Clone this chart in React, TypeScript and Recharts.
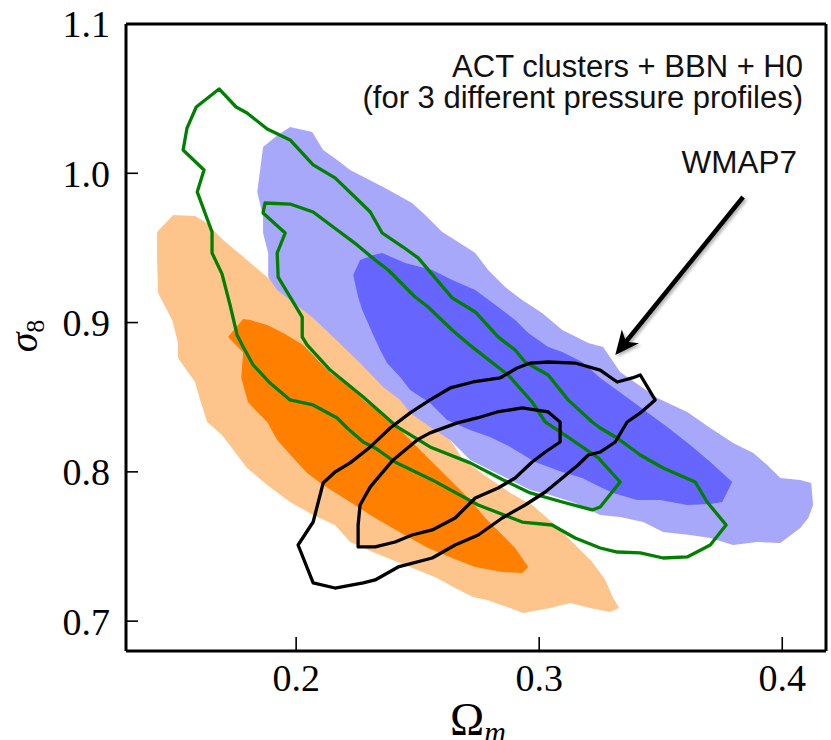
import React from "react";
import { ScatterChart, Scatter, XAxis, YAxis } from "recharts";

type Pt = [number, number];

// contour vertices, as [Omega_m, sigma_8]
// ACT profile A (orange), 95% and 68%
const profileA95: Pt[] = [
  [0.1428, 0.9607], [0.1494, 0.9721], [0.1584, 0.9714], [0.1626, 0.9674], [0.17, 0.9553],
  [0.1798, 0.9419], [0.1885, 0.9299], [0.1975, 0.9198], [0.2066, 0.9071], [0.216, 0.8937],
  [0.2263, 0.8776], [0.2358, 0.8615], [0.2449, 0.8495], [0.2551, 0.8348], [0.2634, 0.8214],
  [0.2687, 0.808], [0.2786, 0.7966], [0.2881, 0.7859], [0.2971, 0.7778], [0.3066, 0.7644],
  [0.3148, 0.751], [0.3218, 0.7396], [0.3272, 0.7276], [0.3304, 0.7155], [0.3329, 0.7088],
  [0.3292, 0.7061], [0.321, 0.7088], [0.3128, 0.7122], [0.3045, 0.7088], [0.2934, 0.7055],
  [0.2868, 0.7095], [0.2786, 0.7142], [0.2728, 0.7162], [0.2646, 0.7229], [0.258, 0.7289],
  [0.2469, 0.7363], [0.2325, 0.7457], [0.2222, 0.753], [0.216, 0.7644], [0.207, 0.7711],
  [0.1975, 0.7798], [0.1881, 0.7912], [0.1798, 0.8026], [0.1695, 0.8247], [0.1634, 0.8334],
  [0.1605, 0.8482], [0.1584, 0.8602], [0.1514, 0.8763], [0.1514, 0.8863], [0.149, 0.9017],
  [0.1432, 0.9198], [0.1428, 0.9419],
];
const profileA68: Pt[] = [
  [0.172, 0.8904], [0.1782, 0.9024], [0.1811, 0.9017], [0.1881, 0.8984], [0.1947, 0.893],
  [0.2029, 0.885], [0.214, 0.8662], [0.2222, 0.8569], [0.2276, 0.8482], [0.2346, 0.8395],
  [0.2416, 0.8301], [0.2457, 0.8234], [0.2551, 0.808], [0.2634, 0.7946], [0.2716, 0.7812],
  [0.2778, 0.7691], [0.2848, 0.7577], [0.2901, 0.749], [0.2955, 0.7363], [0.293, 0.7322],
  [0.2848, 0.7329], [0.2737, 0.7363], [0.2642, 0.7423], [0.2543, 0.749], [0.2461, 0.7564],
  [0.2325, 0.7691], [0.2222, 0.7798], [0.2111, 0.7912], [0.2045, 0.7992], [0.1988, 0.8093],
  [0.1922, 0.8214], [0.1881, 0.8334], [0.184, 0.8401], [0.1802, 0.8468], [0.1774, 0.8629],
  [0.1782, 0.8799],
];

// ACT profile B (blue)
const profileB95: Pt[] = [
  [0.1864, 1.0176], [0.1914, 1.0243], [0.1975, 1.031], [0.2066, 1.0277], [0.2111, 1.0156],
  [0.2169, 1.0089], [0.2222, 1.0022], [0.2358, 0.9908], [0.2477, 0.9801], [0.2531, 0.9721],
  [0.2601, 0.9607], [0.2654, 0.9553], [0.2737, 0.9466], [0.279, 0.9352], [0.286, 0.9238],
  [0.293, 0.9151], [0.3012, 0.9064], [0.3095, 0.895], [0.3202, 0.8863], [0.3263, 0.8837],
  [0.3333, 0.8669], [0.3486, 0.8495], [0.3609, 0.8401], [0.3704, 0.8294], [0.3798, 0.8193],
  [0.3881, 0.8126], [0.3938, 0.8046], [0.3992, 0.7959], [0.4074, 0.7946], [0.4119, 0.7925],
  [0.4127, 0.7778], [0.4107, 0.7691], [0.4074, 0.7624], [0.3992, 0.7524], [0.3897, 0.753],
  [0.3798, 0.751], [0.3704, 0.7557], [0.3621, 0.7577], [0.351, 0.7597], [0.3428, 0.7664],
  [0.3333, 0.7698], [0.3251, 0.7711], [0.3148, 0.7792], [0.3045, 0.7845], [0.2963, 0.7879],
  [0.2881, 0.7946], [0.2798, 0.8013], [0.2716, 0.808], [0.2634, 0.8214], [0.2551, 0.8301],
  [0.2469, 0.8395], [0.2428, 0.8482], [0.2358, 0.8569], [0.2263, 0.8729], [0.2148, 0.891],
  [0.207, 0.9031], [0.1975, 0.9151], [0.1922, 0.9218], [0.1885, 0.9305], [0.1885, 0.9466],
  [0.1864, 0.96], [0.1864, 0.9707], [0.184, 0.9875],
];
const profileB68: Pt[] = [
  [0.2235, 0.9319], [0.2263, 0.9419], [0.2317, 0.9453], [0.2354, 0.9466], [0.2449, 0.9399],
  [0.256, 0.9352], [0.2642, 0.9285], [0.2737, 0.9218], [0.2831, 0.9104], [0.2901, 0.9017],
  [0.2955, 0.893], [0.3037, 0.8837], [0.3095, 0.8803], [0.3177, 0.8736], [0.3251, 0.8629],
  [0.3387, 0.8468], [0.3527, 0.8301], [0.3621, 0.818], [0.3704, 0.8066], [0.3794, 0.7932],
  [0.3753, 0.7798], [0.3704, 0.7785], [0.3609, 0.7778], [0.3498, 0.7812], [0.3403, 0.7812],
  [0.3304, 0.7859], [0.3251, 0.7899], [0.3177, 0.7959], [0.3095, 0.7999], [0.2983, 0.8066],
  [0.2881, 0.8167], [0.2798, 0.8234], [0.2716, 0.8281], [0.2621, 0.8348], [0.2551, 0.8461],
  [0.2469, 0.8549], [0.2428, 0.8636], [0.2374, 0.8729], [0.2346, 0.8816], [0.2317, 0.8917],
  [0.2272, 0.9084], [0.2255, 0.9171],
];

// ACT profile C (green outlines)
const profileC95: Pt[] = [
  [0.1683, 1.0565], [0.1753, 1.0444], [0.1798, 1.0404], [0.1881, 1.0297], [0.1975, 1.0223],
  [0.207, 1.0056], [0.216, 0.9969], [0.2263, 0.9808], [0.2305, 0.9741], [0.2354, 0.96],
  [0.244, 0.9506], [0.2502, 0.9433], [0.2642, 0.9165], [0.2737, 0.9071], [0.2831, 0.8904],
  [0.2901, 0.8816], [0.2942, 0.8736], [0.3037, 0.8649], [0.3119, 0.8482], [0.3218, 0.8334],
  [0.3251, 0.8294], [0.3321, 0.8227], [0.3416, 0.8113], [0.351, 0.8026], [0.3642, 0.7932],
  [0.3691, 0.7798], [0.3769, 0.7644], [0.3704, 0.751], [0.3609, 0.743], [0.351, 0.7423],
  [0.3416, 0.7457], [0.3321, 0.7463], [0.3251, 0.749], [0.3148, 0.7557], [0.3053, 0.7644],
  [0.293, 0.7664], [0.2749, 0.7778], [0.256, 0.7946], [0.2407, 0.8066], [0.2325, 0.816],
  [0.2276, 0.82], [0.221, 0.8294], [0.2169, 0.8361], [0.207, 0.8448], [0.1975, 0.8482],
  [0.1893, 0.8595], [0.1823, 0.8716], [0.1778, 0.885], [0.1757, 0.8917], [0.1728, 0.9118],
  [0.1695, 0.9326], [0.1654, 0.9466], [0.1654, 0.9607], [0.1593, 0.9875], [0.1621, 1.0022],
  [0.1535, 1.0156], [0.1551, 1.0303], [0.1589, 1.0444],
];
const profileC68: Pt[] = [
  [0.2025, 0.8904], [0.2045, 0.885], [0.214, 0.8682], [0.2276, 0.8502], [0.2416, 0.8301],
  [0.2551, 0.8167], [0.2716, 0.806], [0.2852, 0.7946], [0.2963, 0.7859], [0.3095, 0.7798],
  [0.3218, 0.7745], [0.3251, 0.7765], [0.3333, 0.7932], [0.3243, 0.8093], [0.3148, 0.82],
  [0.3025, 0.8334], [0.2971, 0.8468], [0.2872, 0.8649], [0.2724, 0.8837], [0.2642, 0.895],
  [0.2543, 0.9104], [0.249, 0.9171], [0.2379, 0.9352], [0.2325, 0.9419], [0.2251, 0.952],
  [0.2169, 0.962], [0.207, 0.9741], [0.1975, 0.9794], [0.1872, 0.9801], [0.1864, 0.9734],
  [0.1955, 0.96], [0.1922, 0.9466], [0.1926, 0.9305], [0.2025, 0.9037],
];

// WMAP7 (black outlines)
const wmap95: Pt[] = [
  [0.2008, 0.751], [0.207, 0.7664], [0.2111, 0.7925], [0.216, 0.7999], [0.2222, 0.806],
  [0.2305, 0.8167], [0.2387, 0.8294], [0.2469, 0.8395], [0.2551, 0.8482], [0.2634, 0.8562],
  [0.2728, 0.8602], [0.2839, 0.8629], [0.2909, 0.8696], [0.2963, 0.8729], [0.3037, 0.8736],
  [0.3148, 0.8729], [0.3251, 0.8682], [0.3321, 0.8602], [0.3383, 0.8629], [0.3416, 0.8649],
  [0.3477, 0.8482], [0.3416, 0.8395], [0.3362, 0.8334], [0.3313, 0.82], [0.3251, 0.8133],
  [0.3202, 0.8113], [0.316, 0.8046], [0.3095, 0.7959], [0.3025, 0.7865], [0.2942, 0.7778],
  [0.2848, 0.7691], [0.2749, 0.7577], [0.2654, 0.751], [0.256, 0.7423], [0.242, 0.7363],
  [0.2325, 0.7276], [0.2276, 0.7256], [0.216, 0.7222], [0.207, 0.7256],
];
const wmap68: Pt[] = [
  [0.2255, 0.7497], [0.2255, 0.7644], [0.2263, 0.7778], [0.2305, 0.7899], [0.2399, 0.808],
  [0.2498, 0.8214], [0.2551, 0.8261], [0.2663, 0.8328], [0.2745, 0.8361], [0.2827, 0.8401],
  [0.293, 0.8428], [0.3037, 0.8401], [0.3086, 0.8334], [0.3086, 0.82], [0.3025, 0.8133],
  [0.2971, 0.8066], [0.2901, 0.7959], [0.2831, 0.7892], [0.2737, 0.7825], [0.2654, 0.7691],
  [0.256, 0.7611], [0.2477, 0.7577], [0.2407, 0.753], [0.2325, 0.7497],
];

const wmapArrow: Pt[] = [[0.3839, 0.9841], [0.3313, 0.8783]];

const xTicks = [0.2, 0.3, 0.4];
const yTicks = [0.7, 0.8, 0.9, 1.0, 1.1];
const xDomain = [0.13, 0.418];
const yDomain = [0.68, 1.1];

const titleLines = ["ACT clusters + BBN + H0", "(for 3 different pressure profiles)"];
const wmapLabel = "WMAP7";

const W = 831;
const H = 740;
const SERIF = '"Liberation Serif", "DejaVu Serif", serif';
const SANS = '"Liberation Sans", Arial, sans-serif';

const toPoints = (c: Pt[]) => c.map(([x, y]) => ({ x, y }));
const noDot = () => <g />;

// closed path through the scatter's own pixel points
function polygon(fill: string, stroke = "none", strokeWidth = 0) {
  return (props: any) => {
    const pts = (props.points || []).filter((p: any) => p.x != null && p.y != null);
    if (!pts.length) return <g />;
    const d = pts.map((p: any, i: number) => `${i ? "L" : "M"}${p.x},${p.y}`).join(" ") + " Z";
    return <path d={d} fill={fill} stroke={stroke} strokeWidth={strokeWidth} strokeLinejoin="round" />;
  };
}

function arrow(props: any) {
  const pts = props.points || [];
  if (pts.length < 2) return <g />;
  const [a, b] = pts;
  const dx = b.x - a.x, dy = b.y - a.y;
  const len = Math.hypot(dx, dy);
  const ux = dx / len, uy = dy / len;
  const nx = -uy, ny = ux;
  const head = 24, half = 11, notch = 7;
  const bx = b.x - ux * head, by = b.y - uy * head;
  const mx = b.x - ux * (head - notch), my = b.y - uy * (head - notch);
  const d = `M${b.x},${b.y} L${bx + nx * half},${by + ny * half} L${mx},${my} L${bx - nx * half},${by - ny * half} Z`;
  return (
    <g>
      <defs>
        <filter id="arrowShadow" x="-20%" y="-20%" width="140%" height="140%">
          <feDropShadow dx="2" dy="2" stdDeviation="1.5" floodColor="#000" floodOpacity="0.3" />
        </filter>
      </defs>
      <g filter="url(#arrowShadow)">
        <line x1={a.x} y1={a.y} x2={mx} y2={my} stroke="#000" strokeWidth={4.5} />
        <path d={d} fill="#000" />
      </g>
    </g>
  );
}

const axisLine = { stroke: "#000", strokeWidth: 3 };
const tickLine = { stroke: "#000", strokeWidth: 1.6 };
const tickText = { fill: "#000", fontSize: 38, fontFamily: SERIF };

export default function App() {
  return (
    <div style={{ position: "absolute", left: 0, top: 0, width: W, height: H, background: "#fff" }}>
      <ScatterChart width={W} height={H} margin={{ top: 23, right: 4, bottom: 29, left: 26 }}>
        <Scatter data={toPoints(profileA95)} fill="#fdc48c" shape={noDot} line={polygon("#fdc48c")} isAnimationActive={false} />
        <Scatter data={toPoints(profileA68)} fill="#ff8000" shape={noDot} line={polygon("#ff8000")} isAnimationActive={false} />
        <Scatter data={toPoints(profileB95)} fill="#a8a8fa" shape={noDot} line={polygon("#a8a8fa")} isAnimationActive={false} />
        <Scatter data={toPoints(profileB68)} fill="#6666fe" shape={noDot} line={polygon("#6666fe")} isAnimationActive={false} />
        <Scatter data={toPoints(profileC95)} fill="#007f00" shape={noDot} line={polygon("none", "#007f00", 3.3)} isAnimationActive={false} />
        <Scatter data={toPoints(profileC68)} fill="#007f00" shape={noDot} line={polygon("none", "#007f00", 3.3)} isAnimationActive={false} />
        <Scatter data={toPoints(wmap95)} fill="#000" shape={noDot} line={polygon("none", "#000", 3.3)} isAnimationActive={false} />
        <Scatter data={toPoints(wmap68)} fill="#000" shape={noDot} line={polygon("none", "#000", 3.3)} isAnimationActive={false} />
        <Scatter data={toPoints(wmapArrow)} fill="#000" shape={noDot} line={arrow} isAnimationActive={false} />

        <XAxis
          dataKey="x" type="number" domain={xDomain} ticks={xTicks} allowDataOverflow interval={0}
          height={60} tickSize={-14} tickMargin={27}
          axisLine={axisLine} tickLine={tickLine} tick={tickText}
          tickFormatter={(v: number) => v.toFixed(1)}
        />
        <XAxis
          xAxisId="top" orientation="top" type="number" domain={xDomain} ticks={xTicks} allowDataOverflow interval={0}
          height={1} tickSize={-14} axisLine={axisLine} tickLine={tickLine} tick={false}
        />
        <YAxis
          dataKey="y" type="number" domain={yDomain} ticks={yTicks} allowDataOverflow interval={0}
          width={100} tickSize={-12} tickMargin={28}
          axisLine={axisLine} tickLine={tickLine} tick={tickText}
          tickFormatter={(v: number) => v.toFixed(1)}
        />
        <YAxis
          yAxisId="right" orientation="right" type="number" domain={yDomain} ticks={yTicks} allowDataOverflow interval={0}
          width={1} tickSize={-13} axisLine={axisLine} tickLine={tickLine} tick={false}
        />
      </ScatterChart>

      <svg width={W} height={H} style={{ position: "absolute", left: 0, top: 0, pointerEvents: "none" }}>
        <text x={803} y={77} textAnchor="end" fontFamily={SANS} fontSize={31} fill="#111">{titleLines[0]}</text>
        <text x={803} y={108} textAnchor="end" fontFamily={SANS} fontSize={31} fill="#111">{titleLines[1]}</text>
        <text x={797} y={173} textAnchor="end" fontFamily={SANS} fontSize={31.5} fill="#111">{wmapLabel}</text>
        <text transform="translate(37,336) rotate(-90)" textAnchor="middle" fontFamily={SERIF} fontSize={40} fill="#000">
          <tspan fontStyle="italic">σ</tspan>
          <tspan fontSize={26} dy={7}>8</tspan>
        </text>
        <text x={450} y={735} fontFamily={SERIF} fontSize={46} fill="#000">
          Ω<tspan fontStyle="italic" fontSize={30} dy={7}>m</tspan>
        </text>
      </svg>
    </div>
  );
}
